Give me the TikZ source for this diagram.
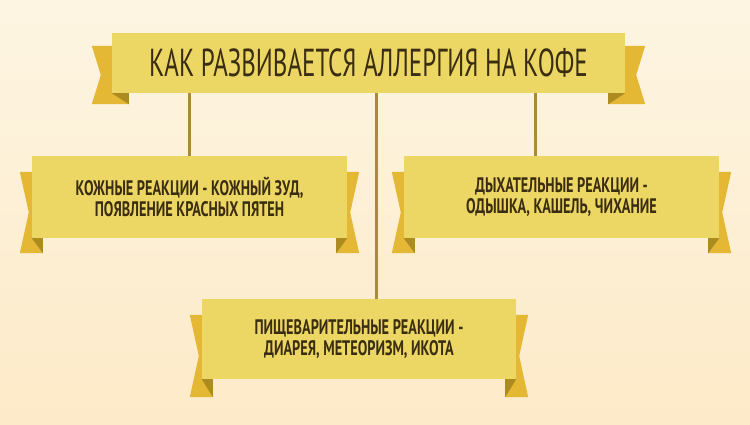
\documentclass[tikz,border=0pt]{standalone}
\usepackage{fontspec}
\newfontfamily\bannerfont{PT Sans}[FakeStretch=0.68]
\newfontfamily\headfont{PT Sans}[FakeStretch=0.64]
\usetikzlibrary{calc,positioning,backgrounds}

\definecolor{paper}{RGB}{253,245,226}
\definecolor{paperlow}{RGB}{253,234,200}
\definecolor{ribbon}{RGB}{237,215,100}
\definecolor{tailgold}{RGB}{228,184,52}
\definecolor{foldgold}{RGB}{172,140,32}
\definecolor{stem}{RGB}{170,137,55}
\definecolor{ink}{RGB}{58,45,18}

\tikzset{
  banner/.style={fill=ribbon, text=ink, align=center, inner sep=0pt,
    font=\bannerfont\bfseries\fontsize{21}{21.5}\selectfont},
  tail/.style={fill=tailgold},
  fold/.style={fill=foldgold},
  link/.style={draw=stem, line width=3pt},
}

% #1 node, #2 outer reach, #3 overlap under the box, #4 top drop, #5 bottom drop
\newcommand{\ribbontails}[5]{%
  \fill[tail] ($(#1.north west)+(-#2,#4)$) -- ($(#1.north west)+(#3,#4)$)
    -- ($(#1.south west)+(#3,#5)$) -- ($(#1.south west)+(-#2,#5)$)
    -- ($(#1.west)+(-#2+9,{(#4+#5)/2})$) -- cycle;
  \fill[fold] (#1.south west) -- ($(#1.south west)+(#3,0)$) -- ($(#1.south west)+(#3,#5)$) -- cycle;
  \fill[tail] ($(#1.north east)+(#2,#4)$) -- ($(#1.north east)+(-#3,#4)$)
    -- ($(#1.south east)+(-#3,#5)$) -- ($(#1.south east)+(#2,#5)$)
    -- ($(#1.east)+(#2-9,{(#4+#5)/2})$) -- cycle;
  \fill[fold] (#1.south east) -- ($(#1.south east)+(-#3,0)$) -- ($(#1.south east)+(-#3,#5)$) -- cycle;
}

\begin{document}
\begin{tikzpicture}[x=1pt,y=-1pt]
  \begin{scope}[on background layer]
    \shade[top color=paper,bottom color=paperlow] (0,0) rectangle (750,425);
  \end{scope}
  \useasboundingbox (0,0) rectangle (750,425);

  \node[banner, minimum width=513pt, minimum height=60pt,
    font=\headfont\fontsize{39}{40}\selectfont] (title) at (368.5,63) {КАК РАЗВИВАЕТСЯ АЛЛЕРГИЯ НА КОФЕ};
  \node[banner, minimum width=315pt, minimum height=82pt] (skin) at (189.5,197)
    {КОЖНЫЕ РЕАКЦИИ - КОЖНЫЙ ЗУД,\\ПОЯВЛЕНИЕ КРАСНЫХ ПЯТЕН};
  \node[banner, minimum width=315pt, minimum height=82pt] (breath) at (561.5,197)
    {ДЫХАТЕЛЬНЫЕ РЕАКЦИИ -\\ОДЫШКА, КАШЕЛЬ, ЧИХАНИЕ};
  \node[banner, minimum width=314pt, minimum height=80pt] (digest) at (359,339)
    {ПИЩЕВАРИТЕЛЬНЫЕ РЕАКЦИИ -\\ДИАРЕЯ, МЕТЕОРИЗМ, ИКОТА};

  \begin{scope}[on background layer]
    \coordinate (hub) at ($(title.south)+(7.5,0)$);
    \coordinate (rstem) at ($(breath.north)+(-26.5,0)$);
    \draw[link] (skin.north) -- (skin.north |- title.south);
    \draw[link] (hub) -- (hub |- digest.north);
    \draw[link] (rstem) -- (rstem |- title.south);

    \ribbontails{title}{20}{17}{13}{11}
    \ribbontails{skin}{12}{11}{16}{15}
    \ribbontails{breath}{12}{11}{16}{15}
    \ribbontails{digest}{12}{11}{16}{18}
  \end{scope}
\end{tikzpicture}
\end{document}
